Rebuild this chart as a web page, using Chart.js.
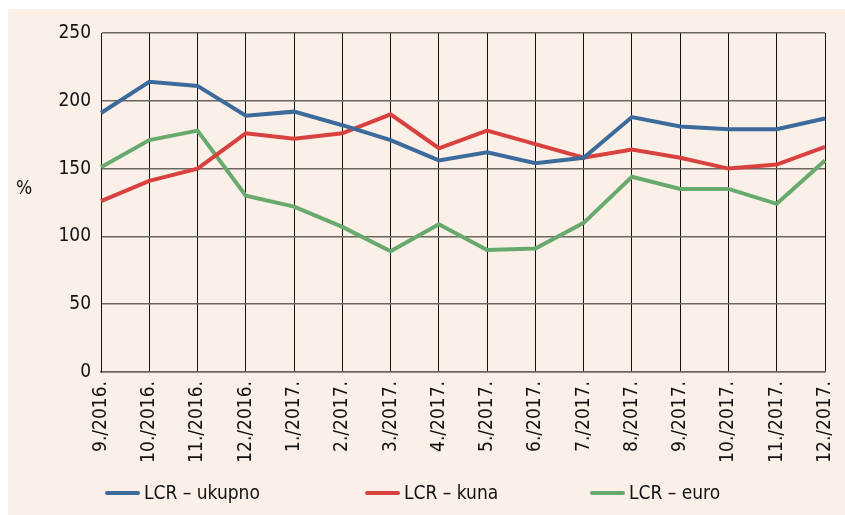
<!DOCTYPE html>
<html>
<head>
<meta charset="utf-8">
<style>
html,body{margin:0;padding:0;background:#ffffff;}
#wrap{width:845px;height:515px;position:relative;}
</style>
<script src="https://cdn.jsdelivr.net/npm/chart.js@4.4.0/dist/chart.umd.min.js"></script>
</head>
<body>
<div id="wrap"><canvas id="c" width="845" height="515"></canvas></div>
<script>
const categories = ["9./2016.","10./2016.","11./2016.","12./2016.","1./2017.","2./2017.","3./2017.","4./2017.","5./2017.","6./2017.","7./2017.","8./2017.","9./2017.","10./2017.","11./2017.","12./2017."];
const lcrUkupno = [191,214,211,189,192,182,171,156,162,154,158,188,181,179,179,187];
const lcrKuna   = [126,141,150,176,172,176,190,165,178,168,158,164,158,150,153,166];
const lcrEuro   = [151,171,178,130,122,107,89,109,90,91,110,144,135,135,124,156];
const yTicks = [0,50,100,150,200,250];
const seriesNames = ["LCR – ukupno","LCR – kuna","LCR – euro"];
const colors = ["#3b6a9b","#d9413f","#68aa6e"];

const FONT = "'Liberation Sans Narrow','DejaVu Sans Condensed','Arial Narrow',sans-serif";

const bgPlugin = {
  id:'bg',
  beforeDraw(chart){
    const ctx = chart.ctx;
    ctx.save();
    ctx.fillStyle = '#fbf0e8';
    ctx.fillRect(8, 9, chart.width-8, chart.height-9);
    ctx.restore();
  },
  afterDraw(chart){
    const ctx = chart.ctx;
    ctx.save();
    ctx.fillStyle = '#111';
    ctx.font = "19px " + FONT;
    ctx.textBaseline = 'middle';
    ctx.textAlign = 'left';
    ctx.fillText('%', 16, 189);
    // legend
    const xs = [107, 367, 592];
    chart.data.datasets.forEach((ds,i)=>{
      ctx.strokeStyle = ds.borderColor;
      ctx.lineWidth = 4;
      ctx.lineCap = 'round';
      ctx.beginPath();
      ctx.moveTo(xs[i], 493);
      ctx.lineTo(xs[i]+31, 493);
      ctx.stroke();
      ctx.fillStyle = '#111';
      ctx.fillText(ds.label, xs[i]+37, 494);
    });
    ctx.restore();
  }
};

new Chart(document.getElementById('c'), {
  type:'line',
  data:{
    labels: categories,
    datasets:[
      {label:seriesNames[0], data:lcrUkupno, borderColor:colors[0], backgroundColor:colors[0]},
      {label:seriesNames[1], data:lcrKuna, borderColor:colors[1], backgroundColor:colors[1]},
      {label:seriesNames[2], data:lcrEuro, borderColor:colors[2], backgroundColor:colors[2]}
    ].map(d=>Object.assign(d,{borderWidth:4, pointRadius:0, tension:0, fill:false}))
  },
  options:{
    responsive:false,
    animation:false,
    devicePixelRatio:1,
    layout:{padding:{left:0, right:20, top:33, bottom:0}},
    plugins:{legend:{display:false}, tooltip:{enabled:false}},
    scales:{
      x:{
        offset:false,
        grid:{color:'#111', lineWidth:1, drawTicks:false},
        border:{color:'#6b6560', width:1.5},
        ticks:{color:'#111', font:{family:FONT, size:19}, minRotation:90, maxRotation:90, padding:9, autoSkip:false},
        afterFit(s){ s.height = 515-372; s.paddingLeft = 0; s.paddingRight = 0; }
      },
      y:{
        min:0, max:250,
        afterBuildTicks(s){ s.ticks = yTicks.map(v=>({value:v})); },
        grid:{color:'#6b6560', lineWidth:1.5, drawTicks:false},
        border:{color:'#111', width:1},
        ticks:{color:'#111', font:{family:FONT, size:19}, padding:10},
        afterFit(s){ s.width = 101; s.paddingTop = 0; s.paddingBottom = 0; }
      }
    }
  },
  plugins:[bgPlugin]
});
</script>
</body>
</html>
